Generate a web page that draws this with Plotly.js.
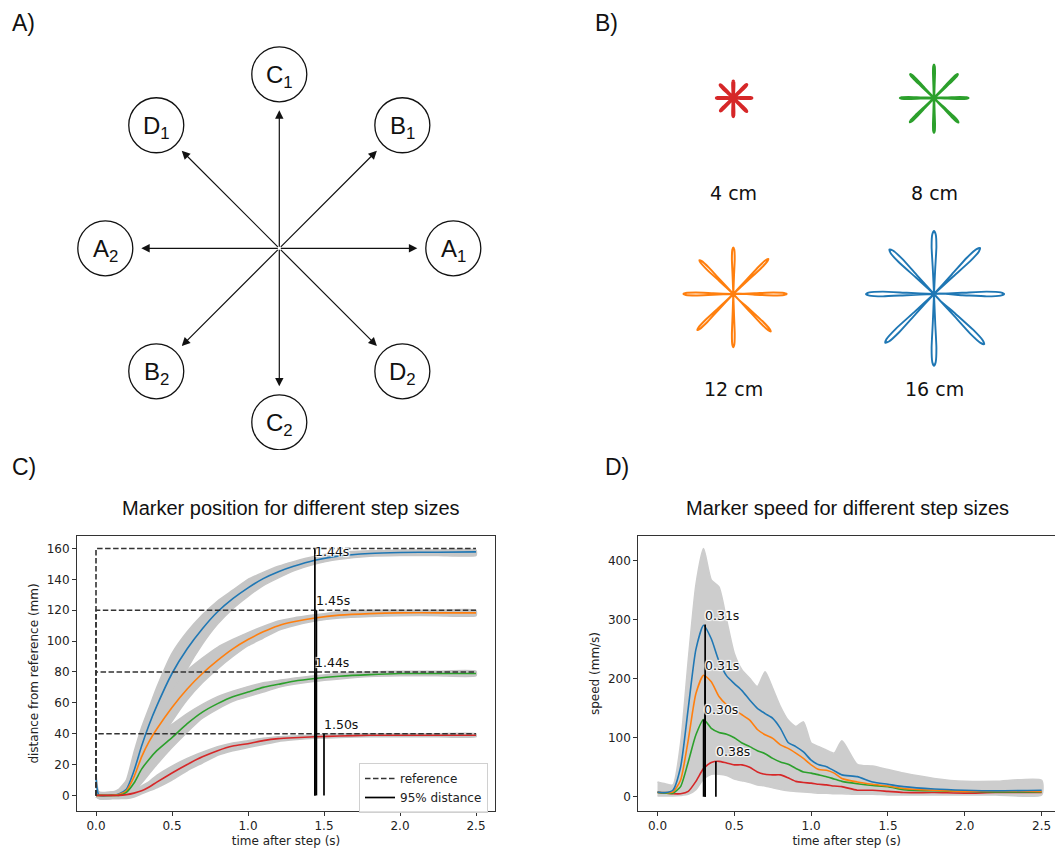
<!DOCTYPE html>
<html><head><meta charset="utf-8">
<script src="https://cdn.plot.ly/plotly-3.0.1.min.js"></script>
<style>html,body{margin:0;padding:0;background:#fff}#chart{width:1055px;height:852px}</style>
</head><body><div id="chart"></div>
<script>
// ---------------- DATA ----------------
// Panel A: targets of the centre-out task
const targetLetters = ['A','B','C','D','A','B','C','D'];
const targetNumbers = [1,1,1,1,2,2,2,2];
const targetAngles  = [0,45,90,135,180,225,270,315];

// Panel B: step sizes and measured spoke reach (cm) per direction (E,NE,N,NW,W,SW,S,SE)
const stepSizesCm = [4, 8, 12, 16];
const stepLabels  = ['4 cm','8 cm','12 cm','16 cm'];
const spokeAngles = [0,45,90,135,180,225,270,315];
const spokeReach4  = [4.4,4.5,4.0,4.4,4.0,4.3,4.4,4.5];
const spokeReach8  = [8.2,8.0,7.9,8.0,8.1,8.1,8.3,8.2];
const spokeReach12 = [12.7,11.8,11.1,11.4,11.9,12.1,12.7,12.6];
const spokeReach16 = [16.7,15.5,15.0,15.0,16.2,16.4,17.1,16.9];

// Panel C: marker position (mm)
const targetsMm = [40, 80, 120, 160];
const tC = [0,0.02,0.1,0.15,0.2,0.25,0.3,0.35,0.4,0.5,0.6,0.7,0.8,0.9,1.0,1.1,1.2,1.3,1.44,1.6,1.8,2.0,2.25,2.5];
const pos4  = [0,0,0,0,0.5,1.5,3,5.5,8.6,14.5,20,25,29,32,33.5,35.5,36.8,37.4,38,38.5,39,39,39,39];
const pos8  = [0,0,0,0,2,8,17,23.5,29,37.5,46.5,54,59.5,64,67,70,72,74,75.8,77.2,78.3,79,79,79];
const pos12 = [0,0,0,0.5,3,12,25,35,43,57,69,79,87.5,95,101,106,110,112.5,115,116.8,117.8,118.3,118.3,118.3];
const pos16 = [12,0,0,1,4,16,32,46,58,79,95,108,119,127.5,134.5,140.5,145,148.5,152.4,155.2,156.8,157.4,157.6,157.8];
const posLo4  = [-1,-2,-2,-2,-2,-1,1,3,5,10,16,21,26,29,31,33,35,36,37,37.5,38,38,38,38];
const posHi4  = [3,2,2,2,2,3,6,9,13,19,24,28,31.5,34,35.5,37,38,38.5,39,40,40,40,40,40];
const posLo8  = [-1,-2,-2,-2,-1,2,8,14,20,31,41,50,56,61,64,67,70,72,74,75.5,77,77.5,77.5,77.5];
const posHi8  = [5,2,2,2,4,13,26,34,39,46,53,59,64,67.5,70.5,73,74.5,76,77.5,79,80,80.5,80.5,80.5];
const posLo12 = [-1,-2,-2,-1,0,3,12,22,32,48,62,73,82,90,97,102,107,110,113,115,116,116.5,116.5,116.5];
const posHi12 = [8,2,2,2,6,20,36,46,56,69,81,89,96,101,105.5,109.5,113,115,117,119,120,120,120,120];
const posLo16 = [-1,-2,-2,-1,0,5,20,32,44,62,82,98,111,121,129,136,141,145.5,150,153,155,155.5,155.5,155.5];
const posHi16 = [14,2,2,4,10,28,44,57,70,92,106,117,126,133,140,144.5,148.5,151.5,155,157.5,158.5,159,159,159];
const t95 = [1.50, 1.44, 1.45, 1.44];

// Panel D: marker speed (mm/s)
const tD = [0,0.05,0.1,0.15,0.2,0.25,0.3,0.35,0.4,0.45,0.5,0.55,0.6,0.65,0.7,0.75,0.8,0.85,0.9,0.95,1.0,1.05,1.1,1.15,1.2,1.3,1.4,1.5,1.6,1.8,2.0,2.2,2.5];
const speed4  = [7,6,5,5,9,26,48,58,60,57,54,54,50,42,38,37,37,32,26,24,23,21,20,18,17,11,11,9,7,7,6,7,7];
const speed8  = [7,6,6,17,59,105,131,116,109,106,100,91,85,78,73,65,59,55,48,42,40,37,34,30,26,22,19,17,12,10,9,8,8];
const speed12 = [8,7,8,28,96,175,206,195,170,156,147,139,130,114,105,99,88,82,74,65,54,46,45,40,31,25,21,18,14,11,9,10,9];
const speed16 = [8,7,11,50,150,250,291,268,230,205,192,180,164,150,141,133,116,92,85,76,62,54,51,44,37,34,25,21,17,13,11,10,11];
const speedHi = [25,22,20,90,232,360,421,368,356,300,243,215,201,187,212,184,153,130,119,127,91,85,79,74,95,55,52,46,40,31,26,26,28];
const speedLo = [1,1,1,2,4,12,30,38,38,36,30,27,24,20,18,15,12,10,9,8,7,6,6,5,5,4,4,3,3,3,3,3,3];
const peakTimes  = [0.38, 0.30, 0.31, 0.31];
const peakSpeeds = [60, 131, 206, 292];

// ---------------- STYLE / LAYOUT ----------------
const W = 1055, H = 852;
const colors = ['#d62728','#2ca02c','#ff7f0e','#1f77b4'];
const grey = '#c6c6c6';
const greyD = '#cdcdcd';
const DJ = 'DejaVu Sans, sans-serif';
const AR = 'Liberation Sans, Arial, sans-serif';
const whiteHalo = '1px 1px 1px #fff, -1px -1px 1px #fff, 1px -1px 1px #fff, -1px 1px 1px #fff, 0 0 2px #fff';

const traces = [];
const shapes = [];
const annotations = [];

// ---- Panel A ----
const cA = {x: 279.3, y: 248.3}, circleDist = 174, circleR = 27.5, arrowLen = 138;
targetAngles.forEach((a, i) => {
  const r = a * Math.PI / 180, cs = Math.cos(r), sn = Math.sin(r);
  const px = cA.x + circleDist * cs, py = cA.y - circleDist * sn;
  shapes.push({type:'circle', xref:'x', yref:'y', x0:px-circleR, x1:px+circleR, y0:py-circleR, y1:py+circleR,
    line:{color:'#111', width:1.3}});
  annotations.push({xref:'x', yref:'y', x:px, y:py, yshift:-2, text: targetLetters[i] + '<sub>' + targetNumbers[i] + '</sub>',
    showarrow:false, font:{family:AR, size:24, color:'#111'}, xanchor:'center', yanchor:'middle'});
  annotations.push({xref:'x', yref:'y', axref:'x', ayref:'y', x: cA.x + arrowLen*cs, y: cA.y - arrowLen*sn,
    ax: cA.x, ay: cA.y, text:'', showarrow:true, arrowhead:2, arrowsize:1.4, arrowwidth:1.2, arrowcolor:'#111',
    standoff:0, startstandoff:0});
});

// ---- Panel B ----
const reaches = [spokeReach4, spokeReach8, spokeReach12, spokeReach16];
const pxPerCm = 4.2;
const gridX = [733.3, 934], gridY = [98, 294];
const petalHalfWidth = [0.4, 0.8, 1.4, 2.4];
const starLineW = [3.4, 2.4, 2.0, 1.9];
const fr = [0, 0.4, 0.75, 0.95, 1.0, 0.95, 0.75, 0.4, 0];
const off = [0, 0.5, 1, 0.7, 0, -0.7, -1, -0.5, 0];
stepSizesCm.forEach((s, i) => {
  const cx = gridX[i % 2], cy = gridY[Math.floor(i / 2)];
  const xs = [], ys = [];
  spokeAngles.forEach((a, k) => {
    const r = a * Math.PI / 180, L = reaches[i][k] * pxPerCm, w = petalHalfWidth[i];
    const ux = Math.cos(r), uy = -Math.sin(r), nx = -uy, ny = ux;
    fr.forEach((f, j) => { xs.push(cx + ux*L*f + nx*w*off[j]); ys.push(cy + uy*L*f + ny*w*off[j]); });
  });
  traces.push({x: xs, y: ys, xaxis:'x2', yaxis:'y2', mode:'lines', showlegend:false, hoverinfo:'skip',
    line:{color: colors[i], width: starLineW[i], shape:'spline', smoothing:0.5}});
  annotations.push({xref:'x2', yref:'y2', x: cx, y: cy + 95, text: stepLabels[i], showarrow:false,
    font:{family:DJ, size:19, color:'#111'}, xanchor:'center', yanchor:'middle'});
});

// ---- Panel C ----
const posMeans = [pos4, pos8, pos12, pos16];
const posLos = [posLo4, posLo8, posLo12, posLo16];
const posHis = [posHi4, posHi8, posHi12, posHi16];
[3,2,1,0].forEach(i => {
  traces.push({x: tC.concat(tC.slice().reverse()), y: posHis[i].concat(posLos[i].slice().reverse()),
    xaxis:'x3', yaxis:'y3', mode:'lines', fill:'toself', fillcolor: grey, showlegend:false, hoverinfo:'skip',
    line:{color: grey, width:1.5, shape:'spline', smoothing:0.5}});
});
[3,2,1,0].forEach(i => {
  traces.push({x: tC, y: posMeans[i], xaxis:'x3', yaxis:'y3', mode:'lines', showlegend:false,
    line:{color: colors[i], width:1.6, shape:'spline', smoothing:0.6}});
});
const tEnd = tC[tC.length - 1];
[3,2,1,0].forEach((i, n) => {
  traces.push({x:[0, 0, tEnd], y:[0, targetsMm[i], targetsMm[i]], xaxis:'x3', yaxis:'y3', mode:'lines',
    name:'reference', legendrank:1, showlegend: n === 0, line:{color:'#333', width:1.6, dash:'5.5px,2.5px'}});
});
[3,2,1,0].forEach((i, n) => {
  traces.push({x:[t95[i], t95[i]], y:[0, targetsMm[i]], xaxis:'x3', yaxis:'y3', mode:'lines',
    name:'95% distance', legendrank:2, showlegend: n === 0, line:{color:'#000', width:1.7}});
});
const labelShiftC = [1, 1, 1, -11];
[0,1,2,3].forEach(i => {
  annotations.push({xref:'x3', yref:'y3', x: t95[i], y: targetsMm[i], yshift: labelShiftC[i], xshift:-1,
    text: t95[i].toFixed(2) + 's', showarrow:false, xanchor:'left', yanchor:'bottom', borderpad:0,
    font:{family:DJ, size:12.5, color:'#111', shadow: whiteHalo}});
});

// ---- Panel D ----
traces.push({x: tD.concat(tD.slice().reverse()), y: speedHi.concat(speedLo.slice().reverse()),
  xaxis:'x4', yaxis:'y4', mode:'lines', fill:'toself', fillcolor: greyD, showlegend:false, hoverinfo:'skip',
  line:{color: greyD, width:1.5, shape:'spline', smoothing:0.6}});
const speeds = [speed4, speed8, speed12, speed16];
[0,1,2,3].forEach(i => {
  traces.push({x: tD, y: speeds[i], xaxis:'x4', yaxis:'y4', mode:'lines', showlegend:false,
    line:{color: colors[i], width:1.6, shape:'spline', smoothing:0.6}});
});
[0,1,2,3].forEach(i => {
  traces.push({x:[peakTimes[i], peakTimes[i]], y:[0, peakSpeeds[i]], xaxis:'x4', yaxis:'y4', mode:'lines',
    showlegend:false, line:{color:'#000', width:1.7}});
  annotations.push({xref:'x4', yref:'y4', x: peakTimes[i], y: peakSpeeds[i], yshift:1, xshift:-1,
    text: peakTimes[i].toFixed(2) + 's', showarrow:false, xanchor:'left', yanchor:'bottom', borderpad:0,
    font:{family:DJ, size:12.5, color:'#111', shadow: whiteHalo}});
});

// ---- panel letters and titles ----
[['A)', 10, 22.5], ['B)', 592.7, 22.5], ['C)', 10, 467], ['D)', 603, 467]].forEach(p => {
  annotations.push({xref:'paper', yref:'paper', x: p[1]/W, y: 1 - p[2]/H, text: p[0], showarrow:false,
    xanchor:'left', yanchor:'middle', font:{family:AR, size:23, color:'#111'}});
});
[['Marker position for different step sizes', 291], ['Marker speed for different step sizes', 847.5]].forEach(p => {
  annotations.push({xref:'paper', yref:'paper', x: p[1]/W, y: 1 - 508/H, text: p[0], showarrow:false,
    xanchor:'center', yanchor:'middle', font:{family:AR, size:20, color:'#111'}});
});

const plotYDomain = [1 - 811/H, 1 - 536/H];
const axBase = {showline:true, linecolor:'#333', linewidth:1, ticks:'outside', ticklen:4, tickwidth:1, tickcolor:'#333',
  showgrid:false, zeroline:false, tickfont:{family:DJ, size:12, color:'#222'}, automargin:false};
const hidden = {visible:false, showgrid:false, zeroline:false, fixedrange:true};

const layout = {
  width: W, height: H, margin:{l:0, r:0, t:0, b:0}, paper_bgcolor:'#fff', plot_bgcolor:'#fff',
  showlegend: true,
  legend:{x: 488/W, xanchor:'right', y: 1 - 763/H, yanchor:'top', bgcolor:'rgba(255,255,255,0.85)',
    bordercolor:'#d0d0d0', borderwidth:1, font:{family:DJ, size:12, color:'#222'}, tracegroupgap:0, itemwidth:30},
  xaxis:  Object.assign({}, hidden, {domain:[0, 0.5], range:[0, 527.5]}),
  yaxis:  Object.assign({}, hidden, {domain:[1 - 450/H, 1], range:[450, 0]}),
  xaxis2: Object.assign({}, hidden, {domain:[0.5, 1], range:[527.5, 1055]}),
  yaxis2: Object.assign({}, hidden, {domain:[1 - 450/H, 1], range:[450, 0]}),
  xaxis3: Object.assign({}, axBase, {domain:[77/W, 495/W], range:[-0.125, 2.625], mirror:true, anchor:'y3',
    tickvals:[0,0.5,1,1.5,2,2.5], tickformat:'.1f',
    title:{text:'time after step (s)', font:{family:DJ, size:12, color:'#222'}, standoff:4}}),
  yaxis3: Object.assign({}, axBase, {domain: plotYDomain, range:[-10.1, 168.1], mirror:true, anchor:'x3',
    tickvals:[0,20,40,60,80,100,120,140,160],
    title:{text:'distance from reference (mm)', font:{family:DJ, size:12, color:'#222'}, standoff:5}}),
  xaxis4: Object.assign({}, axBase, {domain:[638.3/W, 1], range:[-0.125, 2.587], mirror:true, anchor:'y4',
    tickvals:[0,0.5,1,1.5,2,2.5], tickformat:'.1f',
    title:{text:'time after step (s)', font:{family:DJ, size:12, color:'#222'}, standoff:4}}),
  yaxis4: Object.assign({}, axBase, {domain: plotYDomain, range:[-24.3, 442.4], mirror:false, anchor:'x4',
    tickvals:[0,100,200,300,400],
    title:{text:'speed (mm/s)', font:{family:DJ, size:12, color:'#222'}, standoff:5}}),
  shapes: shapes,
  annotations: annotations
};

Plotly.newPlot('chart', traces, layout, {displayModeBar:false, staticPlot:true});
</script>
</body></html>
